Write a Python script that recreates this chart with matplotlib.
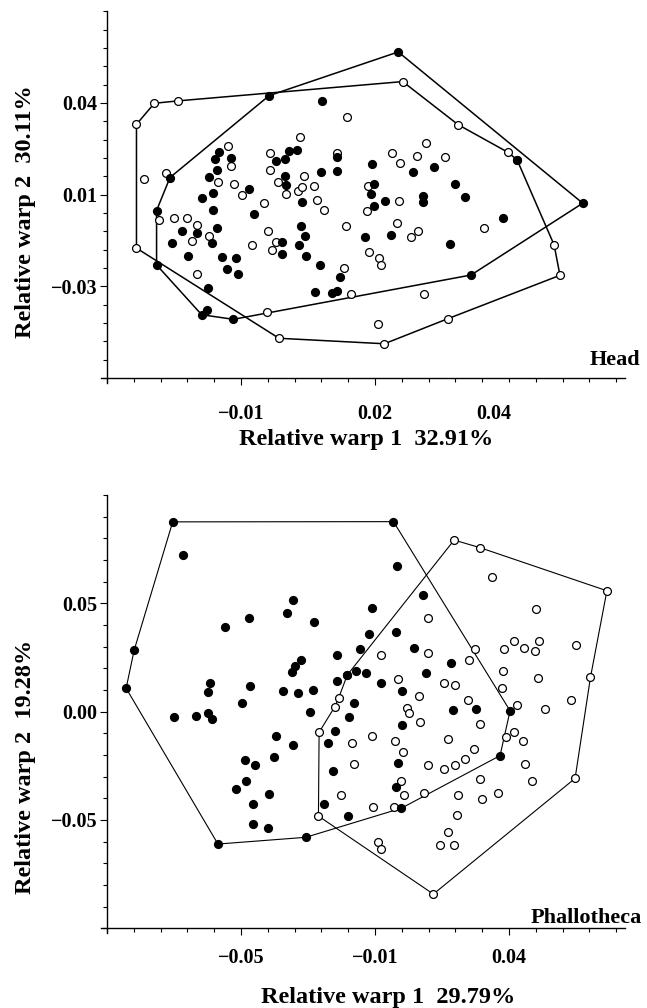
import numpy as np
import matplotlib
matplotlib.use("Agg")
import matplotlib.pyplot as plt
from matplotlib.ticker import FixedLocator, NullFormatter

plt.rcParams['font.family'] = ['Liberation Serif', 'DejaVu Serif']
plt.rcParams['font.weight'] = 'bold'

# ---------------- Head panel data (Relative warp 1 vs 2) ----------------
head_open_x = [-0.0334, -0.0294, -0.0240, 0.0262, 0.0386, 0.0497, 0.0518, 0.0601, 0.0614,
               0.0363, 0.0221, -0.0015, -0.0334,
               -0.0317, -0.0268, -0.0128, -0.0122, -0.0152, -0.0116, -0.0097, -0.0036, -0.0036,
               -0.0018, 0.0000, 0.0031, 0.0040, 0.0028, 0.0036, 0.0063, 0.0070, -0.0049, 0.0085,
               0.0114, 0.0138, 0.0239, 0.0257, 0.0293, 0.0314, 0.0356, 0.0185, 0.0254, 0.0182,
               0.0134, 0.0249, 0.0281, 0.0296, 0.0445, 0.0187, 0.0209, 0.0213, 0.0131, 0.0146,
               0.0310, 0.0206, -0.0284, -0.0250, -0.0221, -0.0199, -0.0210, -0.0172, -0.0039,
               -0.0076, -0.0022, -0.0031, -0.0199, -0.0042]
head_open_y = [0.0330, 0.0399, 0.0407, 0.0470, 0.0329, 0.0239, 0.0214, -0.0065, -0.0164,
               -0.0306, -0.0388, -0.0370, -0.0075,
               0.0151, 0.0172, 0.0258, 0.0193, 0.0141, 0.0134, 0.0099, 0.0235, 0.0180,
               0.0142, 0.0102, 0.0288, 0.0161, 0.0112, 0.0126, 0.0128, 0.0082, 0.0073, 0.0050,
               0.0237, 0.0354, 0.0237, 0.0205, 0.0227, 0.0269, 0.0223, 0.0129, 0.0079, 0.0047,
               -0.0002, 0.0006, -0.0037, -0.0020, -0.0010, -0.0087, -0.0108, -0.0130, -0.0141, -0.0225,
               -0.0224, -0.0324, 0.0017, 0.0024, 0.0022, 0.0000, -0.0051, -0.0035, -0.0019,
               -0.0065, -0.0054, -0.0081, -0.0160, -0.0285]
head_open_hull = [0, 1, 2, 3, 4, 5, 6, 7, 8, 9, 10, 11, 12, 0]

head_filled_x = [-0.0037, 0.0252, 0.0665, 0.0415, -0.0117, -0.0188, -0.0289, -0.0289, -0.0259,
                 -0.0177, 0.0081, -0.0150, -0.0158, -0.0122, -0.0154, -0.0172, -0.0162, -0.0187,
                 -0.0162, -0.0081, -0.0022, -0.0002, 0.0007, 0.0026, -0.0001, 0.0001, 0.0037,
                 0.0079, 0.0114, 0.0116, 0.0193, 0.0284, 0.0333, 0.0198, 0.0190, 0.0222, 0.0308,
                 0.0307, 0.0380, 0.0401, 0.0198, 0.0178, 0.0236, 0.0368, 0.0487, 0.0122, 0.0114,
                 0.0103, 0.0066, -0.0071, -0.0231, -0.0199, -0.0154, -0.0164, -0.0254, -0.0219,
                 -0.0143, -0.0111, -0.0132, -0.0107, -0.0008, -0.0008, 0.0034, 0.0044, 0.0030,
                 0.0046, 0.0076, -0.0174, 0.0518]
head_filled_y = [0.0424, 0.0567, 0.0072, -0.0163, -0.0308, -0.0293, -0.0130, 0.0048, 0.0156,
                 -0.0279, 0.0408, 0.0240, 0.0217, 0.0219, 0.0180, 0.0159, 0.0105, 0.0088,
                 0.0050, 0.0120, 0.0210, 0.0216, 0.0244, 0.0246, 0.0162, 0.0131, 0.0077,
                 0.0173, 0.0178, 0.0222, 0.0201, 0.0174, 0.0191, 0.0135, 0.0102, 0.0079, 0.0096,
                 0.0075, 0.0136, 0.0093, 0.0063, -0.0039, -0.0032, -0.0062, 0.0023, -0.0170, -0.0216,
                 -0.0223, -0.0218, 0.0036, -0.0019, -0.0026, -0.0008, -0.0059, -0.0057, -0.0100,
                 -0.0105, -0.0107, -0.0143, -0.0159, -0.0056, -0.0093, -0.0001, -0.0034, -0.0065,
                 -0.0100, -0.0130, -0.0206, 0.0214]
head_filled_hull = [0, 1, 2, 3, 4, 5, 6, 7, 8, 0]

head_xticks = [-0.01, 0.02, 0.0465]
head_xticklabels = ['\u22120.01', '0.02', '0.04']
head_yticks = [0.04, 0.01, -0.02]
head_yticklabels = ['0.04', '0.01', '\u22120.03']
head_xlabel = 'Relative warp 1  32.91%'
head_ylabel = 'Relative warp 2  30.11%'

# ---------------- Phallotheca panel data ----------------
ph_open_x = [0.0136, 0.0213, 0.0592, 0.0543, 0.0497, 0.0074, -0.0269, -0.0267, -0.0220, -0.0209,
             -0.0183,
             0.0248, 0.0059, 0.0380, -0.0083, 0.0057, 0.0198, 0.0181, 0.0286, 0.0314, 0.0346,
             0.0377, 0.0390, 0.0499, 0.0283, 0.0387, 0.0278, 0.0485, -0.0033, 0.0031, 0.0107,
             0.0139, 0.0178, 0.0323, -0.0168, -0.0162, -0.0201, -0.0110, -0.0005, 0.0002, 0.0034,
             -0.0040, -0.0017, -0.0022, -0.0014, -0.0043, -0.0106, 0.0047, 0.0057, 0.0107, 0.0139,
             0.0169, 0.0196, 0.0119, 0.0213, 0.0407, 0.0292, 0.0315, 0.0341, 0.0349, 0.0368,
             0.0214, 0.0266, 0.0220, 0.0147, 0.0145, 0.0117, 0.0094, 0.0136, -0.0090, -0.0082]
ph_open_y = [0.0792, 0.0757, 0.0558, 0.0159, -0.0308, -0.0842, -0.0482, -0.0095, 0.0023, 0.0062,
             0.0169,
             0.0620, 0.0431, 0.0472, 0.0263, 0.0271, 0.0289, 0.0238, 0.0290, 0.0327, 0.0292,
             0.0281, 0.0326, 0.0308, 0.0188, 0.0154, 0.0108, 0.0056, 0.0152, 0.0074, 0.0134,
             0.0122, 0.0054, 0.0033, -0.0143, -0.0242, -0.0385, -0.0112, 0.0015, -0.0005, -0.0046,
             -0.0134, -0.0188, -0.0320, -0.0385, -0.0439, -0.0441, -0.0374, -0.0246, -0.0266, -0.0246,
             -0.0219, -0.0172, -0.0128, -0.0057, 0.0011, -0.0118, -0.0095, -0.0134, -0.0242, -0.0319,
             -0.0311, -0.0377, -0.0403, -0.0385, -0.0477, -0.0557, -0.0615, -0.0615, -0.0600, -0.0634]
ph_open_hull = [0, 1, 2, 3, 4, 5, 6, 7, 8, 9, 10, 0]

ph_filled_x = [-0.0704, -0.0045, 0.0303, 0.0273, -0.0022, -0.0307, -0.0569, -0.0843, -0.0819,
               -0.0673, -0.0345, -0.0364, -0.0475, -0.0548, -0.0283, -0.0214, -0.0145, -0.0322,
               -0.0339, -0.0348, -0.0213, -0.0183, -0.0157, -0.0593, -0.0599, -0.0472, -0.0376,
               -0.0330, -0.0286, -0.0497, -0.0163, -0.0699, -0.0635, -0.0599, -0.0587, -0.0295,
               -0.0178, -0.0396, -0.0344, -0.0219, -0.0240, -0.0227, -0.0487, -0.0458, -0.0402,
               -0.0484, -0.0515, -0.0416, -0.0465, -0.0463, -0.0419, -0.0253, -0.0182,
               -0.0035, 0.0042, -0.0108, -0.0119, -0.0037, 0.0017, 0.0128, 0.0052, -0.0126,
               -0.0083, -0.0020, -0.0020, -0.0032, -0.0037, 0.0132, 0.0202]
ph_filled_y = [0.0876, 0.0877, 0.0004, -0.0203, -0.0446, -0.0580, -0.0611, 0.0108, 0.0284,
               0.0723, 0.0514, 0.0457, 0.0432, 0.0392, 0.0414, 0.0260, 0.0289, 0.0238,
               0.0211, 0.0182, 0.0141, 0.0169, 0.0188, 0.0131, 0.0089, 0.0120, 0.0094,
               0.0085, 0.0099, 0.0041, 0.0042, -0.0023, -0.0019, -0.0005, -0.0034, -0.0002,
               -0.0026, -0.0111, -0.0155, -0.0088, -0.0143, -0.0274, -0.0222, -0.0246, -0.0208,
               -0.0319, -0.0356, -0.0380, -0.0425, -0.0520, -0.0537, -0.0426, -0.0480,
               0.0672, 0.0537, 0.0477, 0.0358, 0.0369, 0.0292, 0.0225, 0.0177, 0.0177,
               0.0134, 0.0097, -0.0062, -0.0238, -0.0346, 0.0008, 0.0011]
ph_filled_hull = [0, 1, 2, 3, 4, 5, 6, 7, 8, 0]

ph_xticks = [-0.05, -0.01, 0.03]
ph_xticklabels = ['\u22120.05', '\u22120.01', '0.04']
ph_yticks = [0.05, 0.00, -0.05]
ph_yticklabels = ['0.05', '0.00', '\u22120.05']
ph_xlabel = 'Relative warp 1  29.79%'
ph_ylabel = 'Relative warp 2  19.28%'

# ---------------- figure ----------------
W, H = 647, 1008
fig = plt.figure(figsize=(W / 100, H / 100), dpi=100)


def style_axes(ax, x0, y0, xlim, ylim, xminor, yminor, xpad, lw_spine=1.0):
    ax.set_xlim(*xlim)
    ax.set_ylim(*ylim)
    for s in ['top', 'right']:
        ax.spines[s].set_visible(False)
    ax.spines['left'].set_position(('data', x0))
    ax.spines['bottom'].set_position(('data', y0))
    for s in ['left', 'bottom']:
        ax.spines[s].set_linewidth(lw_spine)
    ax.xaxis.set_minor_locator(FixedLocator(xminor))
    ax.yaxis.set_minor_locator(FixedLocator(yminor))
    ax.xaxis.set_minor_formatter(NullFormatter())
    ax.yaxis.set_minor_formatter(NullFormatter())
    ax.tick_params(which='both', direction='out', width=0.8, labelsize=14.5)
    ax.tick_params(which='major', length=5)
    ax.tick_params(which='minor', length=3.2)
    ax.tick_params(axis='x', which='major', pad=xpad)
    ax.tick_params(axis='y', which='major', pad=2)
    ax.patch.set_alpha(0)


def draw(ax, ox, oy, ohull, fx, fy, fhull, lw):
    ax.plot([fx[i] for i in fhull], [fy[i] for i in fhull], color='black', lw=lw, zorder=2)
    ax.plot([ox[i] for i in ohull], [oy[i] for i in ohull], color='black', lw=lw, zorder=2)
    ax.scatter(ox, oy, s=32, facecolor='white', edgecolor='black', linewidths=0.9, zorder=3)
    ax.scatter(fx, fy, s=44, color='black', linewidths=0, zorder=4)


# Top panel (Head)
ax1 = fig.add_axes([101 / W, 1 - 383 / H, 524 / W, (383 - 11.3) / H])
draw(ax1, head_open_x, head_open_y, head_open_hull,
     head_filled_x, head_filled_y, head_filled_hull, 1.1)
style_axes(ax1, -0.04, -0.05, (-0.04134, 0.07596), (-0.05164, 0.07),
           np.round(np.arange(-0.04, 0.0761, 0.006), 4),
           np.round(np.arange(-0.05, 0.0701, 0.006), 4), xpad=14)
ax1.set_xticks(head_xticks, labels=head_xticklabels)
ax1.set_yticks(head_yticks, labels=head_yticklabels)
ax1.xaxis.get_major_ticks()[2].tick1line.set_visible(False)
ax1.text(590 / W, 1 - 365 / H, 'Head', transform=fig.transFigure, fontsize=16,
         fontweight='bold', ha='left', va='baseline')

# Bottom panel (Phallotheca)
ax2 = fig.add_axes([101 / W, 1 - 933.3 / H, 524 / W, (933.3 - 495) / H])
draw(ax2, ph_open_x, ph_open_y, ph_open_hull,
     ph_filled_x, ph_filled_y, ph_filled_hull, 0.8)
style_axes(ax2, -0.09, -0.10, (-0.0918, 0.0646), (-0.1023, 0.10),
           np.round(np.arange(-0.09, 0.0647, 0.008), 4),
           np.round(np.arange(-0.10, 0.1001, 0.01), 4), xpad=9.5)
ax2.set_xticks(ph_xticks, labels=ph_xticklabels)
ax2.set_yticks(ph_yticks, labels=ph_yticklabels)
ax2.text(531 / W, 1 - 923 / H, 'Phallotheca', transform=fig.transFigure, fontsize=16,
         fontweight='bold', ha='left', va='baseline')

# Axis titles
fig.text(366 / W, 1 - 445 / H, head_xlabel, fontsize=17.5, fontweight='bold',
         ha='center', va='baseline')
fig.text(26 / W, 1 - 212 / H, head_ylabel, fontsize=17.5, fontweight='bold',
         ha='center', va='center', rotation=90)
fig.text(388 / W, 1 - 1003 / H, ph_xlabel, fontsize=17.5, fontweight='bold',
         ha='center', va='baseline')
fig.text(26 / W, 1 - 767 / H, ph_ylabel, fontsize=17.5, fontweight='bold',
         ha='center', va='center', rotation=90)

fig.savefig('out.png', dpi=100)
